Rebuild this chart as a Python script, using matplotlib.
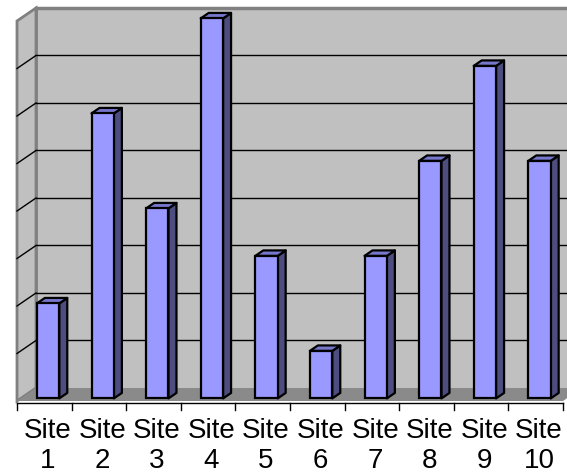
import numpy as np
import matplotlib.pyplot as plt
from matplotlib.patches import Polygon

# chart data
sites  = ['Site 1', 'Site 2', 'Site 3', 'Site 4', 'Site 5',
          'Site 6', 'Site 7', 'Site 8', 'Site 9', 'Site 10']
values = [2, 6, 4, 8, 3, 1, 3, 5, 7, 5]
y_max  = 8

# oblique "3D" look: full depth offset in data units
DX = 0.348
DY = 0.274
d_front = 0.2     # bar front plane depth
d_bar   = 0.42    # bar depth
bar_w   = 0.41

wall   = '#c0c0c0'
floorc = '#8a8a8a'
edge   = '#808080'
front  = '#9999ff'
side   = '#4d4d80'
top    = '#7777cc'

fig = plt.figure(figsize=(5.67, 4.74), dpi=100)
ax = fig.add_axes([17/567, 73/474, 546/567, 380/474])
ax.set_xlim(0.5, len(sites) + 0.5)
ax.set_ylim(0, y_max)
ax.axis('off')

x0, x1 = 0.5, len(sites) + 0.5

# walls and floor
back = Polygon([(x0+DX, DY), (x1+DX, DY), (x1+DX, y_max+DY), (x0+DX, y_max+DY)],
               closed=True, fc=wall, ec='none', clip_on=False, zorder=1)
ax.add_patch(back)
left = Polygon([(x0, 0), (x0+DX, DY), (x0+DX, y_max+DY), (x0, y_max)],
               closed=True, fc=wall, ec=edge, lw=2, clip_on=False, zorder=1)
ax.add_patch(left)
flr = Polygon([(x0, 0), (x1, 0), (x1+DX, DY), (x0+DX, DY)],
              closed=True, fc=floorc, ec='none', clip_on=False, zorder=2)
ax.add_patch(flr)
ax.plot([x0+DX, x1+DX], [y_max+DY, y_max+DY], color=edge, lw=2.5, clip_on=False, zorder=2)
ax.plot([x0+DX, x0+DX], [DY, y_max+DY], color=edge, lw=2, clip_on=False, zorder=2)

# gridlines on back and left wall
for v in range(1, y_max):
    ax.plot([x0+DX, x1+DX], [v+DY, v+DY], color='black', lw=1, clip_on=False, zorder=2)
    ax.plot([x0, x0+DX], [v, v+DY], color='black', lw=1, clip_on=False, zorder=2)

# category axis line and ticks
ax.plot([x0, x1], [-0.04, -0.04], color='black', lw=1, clip_on=False, zorder=3)
for b in np.arange(x0, x1 + 0.01, 1.0):
    ax.plot([b, b], [-0.04, -0.19], color='black', lw=1, clip_on=False, zorder=3)

# bars
pos = np.arange(1, len(sites) + 1)
fx = pos + d_front*DX
fy = d_front*DY
bdx = d_bar*DX
bdy = d_bar*DY
ax.bar(fx, values, width=bar_w, bottom=fy, color=front, edgecolor='black',
       linewidth=1.6, zorder=5, clip_on=False)
for xc, v in zip(fx, values):
    xl, xr = xc - bar_w/2, xc + bar_w/2
    ax.add_patch(Polygon([(xr, fy), (xr+bdx, fy+bdy), (xr+bdx, fy+bdy+v), (xr, fy+v)],
                         closed=True, fc=side, ec='black', lw=1.6, zorder=4,
                         clip_on=False, joinstyle='round'))
    ax.add_patch(Polygon([(xl, fy+v), (xr, fy+v), (xr+bdx, fy+v+bdy), (xl+bdx, fy+v+bdy)],
                         closed=True, fc=top, ec='black', lw=1.6, zorder=4,
                         clip_on=False, joinstyle='round'))

# category labels (two lines)
for p, s in zip(pos, sites):
    w1, w2 = s.split(' ')
    ax.text(p + 0.06, -0.775, w1, ha='center', va='baseline', fontsize=20,
            family='Liberation Sans', clip_on=False)
    ax.text(p + 0.06, -1.40, w2, ha='center', va='baseline', fontsize=20,
            family='Liberation Sans', clip_on=False)

fig.savefig('out.png', dpi=100, facecolor='white')
